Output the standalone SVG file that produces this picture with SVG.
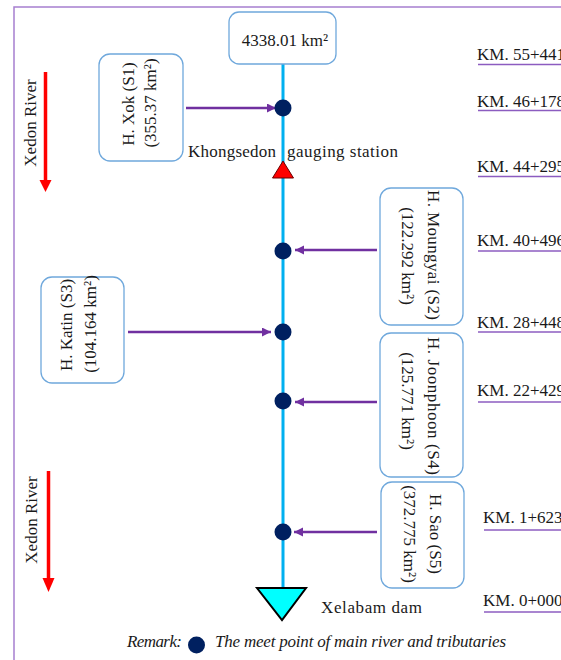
<svg xmlns="http://www.w3.org/2000/svg" width="561" height="660" viewBox="0 0 561 660">
<style>
text{font-family:"Liberation Serif","Times New Roman",serif;font-size:17px;fill:#1a1a1a}
.box{fill:#fff;stroke:#6fa8dc;stroke-width:1.3}
.dot{fill:#002060}
.arr{stroke:#7030a0;stroke-width:2.5;fill:none;marker-end:url(#ah)}
.ul{stroke:#8c5cc0;stroke-width:1.5}
.frame{stroke:#a77fd0;stroke-width:1.5;fill:none}
.red{stroke:#ff0000;stroke-width:3.5}
.it{font-style:italic}
</style>
<defs>
<marker id="ah" markerUnits="userSpaceOnUse" markerWidth="10" markerHeight="10" refX="9" refY="4.5" orient="auto">
<path d="M0,0 L9,4.5 L0,9 Z" fill="#7030a0"/>
</marker>
</defs>
<rect width="561" height="660" fill="#fff"/>
<path class="frame" d="M14,660 V7 H561"/>

<g id="flow-direction">
<text transform="translate(36,123) rotate(-90)" text-anchor="middle">Xedon River</text>
<line class="red" x1="45.5" y1="72" x2="45.5" y2="181"/>
<path d="M39.5,180 L51.5,180 L45.5,192 Z" fill="#ff0000"/>
<text transform="translate(37,520) rotate(-90)" text-anchor="middle">Xedon River</text>
<line class="red" x1="48.5" y1="471" x2="48.5" y2="579"/>
<path d="M42.5,578 L54.5,578 L48.5,592 Z" fill="#ff0000"/>
</g>

<g id="main-river">
<line x1="283" y1="64" x2="283" y2="590" stroke="#00b0f0" stroke-width="3"/>
</g>

<g id="catchment">
<rect class="box" x="229" y="12" width="107" height="52" rx="10"/>
<text x="285" y="46" text-anchor="middle">4338.01 km²</text>
</g>

<g id="connectors">
<line class="arr" x1="186" y1="108" x2="276" y2="108"/>
<line class="arr" x1="377" y1="250" x2="295" y2="250"/>
<line class="arr" x1="128" y1="332" x2="271" y2="332"/>
<line class="arr" x1="377" y1="402" x2="295" y2="402"/>
<line class="arr" x1="377" y1="532" x2="294" y2="532"/>
</g>

<g id="junctions">
<circle class="dot" cx="283" cy="108" r="8.5"/>
<circle class="dot" cx="283" cy="251" r="8.5"/>
<circle class="dot" cx="283" cy="332" r="8.5"/>
<circle class="dot" cx="283" cy="401" r="8.5"/>
<circle class="dot" cx="283" cy="532" r="8.5"/>
</g>

<g id="gauging-station">
<path d="M283,161 L293.5,178 L272.5,178 Z" fill="#ff0000" stroke="#6a0000" stroke-width="1"/>
<text y="157"><tspan x="188" textLength="88">Khongsedon</tspan><tspan x="287" textLength="111">gauging station</tspan></text>
</g>

<g id="dam">
<path d="M257,588 L306,588 L282,620 Z" fill="#00ffff" stroke="#000" stroke-width="2"/>
<text x="321" y="613" textLength="101">Xelabam dam</text>
</g>

<g id="s1">
<rect class="box" x="99" y="54" width="84" height="107" rx="11"/>
<text transform="translate(134,104) rotate(-90)" text-anchor="middle">H. Xok (S1)</text>
<text transform="translate(156,103) rotate(-90)" text-anchor="middle">(355.37 km²)</text>
</g>

<g id="s2">
<rect class="box" x="380" y="188" width="83" height="137" rx="11"/>
<text transform="translate(428,255) rotate(90)" text-anchor="middle" textLength="130">H. Moungyai (S2)</text>
<text transform="translate(402,256) rotate(90)" text-anchor="middle">(122.292 km²)</text>
</g>

<g id="s3">
<rect class="box" x="41" y="277" width="83" height="106" rx="11"/>
<text transform="translate(72,325) rotate(-90)" text-anchor="middle">H. Katin (S3)</text>
<text transform="translate(96,324) rotate(-90)" text-anchor="middle">(104.164 km²)</text>
</g>

<g id="s4">
<rect class="box" x="380" y="333" width="83" height="144" rx="11"/>
<text transform="translate(428,406) rotate(90)" text-anchor="middle" textLength="138">H. Joonphoon (S4)</text>
<text transform="translate(402,401) rotate(90)" text-anchor="middle">(125.771 km²)</text>
</g>

<g id="s5">
<rect class="box" x="381" y="482" width="83" height="106" rx="11"/>
<text transform="translate(430,534) rotate(90)" text-anchor="middle">H. Sao (S5)</text>
<text transform="translate(404,534) rotate(90)" text-anchor="middle">(372.775 km²)</text>
</g>

<g id="chainage">
<text x="477" y="60">KM. 55+441</text>
<line class="ul" x1="478" y1="64.5" x2="561" y2="64.5"/>
<text x="477" y="107">KM. 46+178</text>
<line class="ul" x1="478" y1="110.5" x2="561" y2="110.5"/>
<text x="477" y="172">KM. 44+295</text>
<line class="ul" x1="478" y1="176.5" x2="561" y2="176.5"/>
<text x="477" y="246">KM. 40+496</text>
<line class="ul" x1="478" y1="251" x2="561" y2="251"/>
<text x="477" y="328">KM. 28+448</text>
<line class="ul" x1="478" y1="332" x2="561" y2="332"/>
<text x="477" y="396">KM. 22+429</text>
<line class="ul" x1="478" y1="402" x2="561" y2="402"/>
<text x="483" y="523">KM. 1+623</text>
<line class="ul" x1="484" y1="530" x2="561" y2="530"/>
<text x="483" y="606">KM. 0+000</text>
<line class="ul" x1="484" y1="612" x2="561" y2="612"/>
</g>

<g id="remark">
<text class="it" x="127" y="647" textLength="55">Remark:</text>
<circle class="dot" cx="196.5" cy="645" r="8.5"/>
<text class="it" x="215" y="647" textLength="291">The meet point of main river and tributaries</text>
</g>
</svg>
